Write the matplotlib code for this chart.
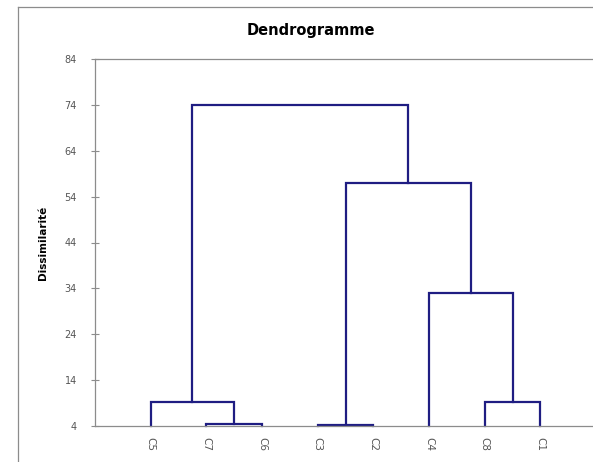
import numpy as np
import matplotlib.pyplot as plt
from matplotlib.lines import Line2D

# leaves in display order
leaves = ['C5', 'C7', 'C6', 'C3', 'C2', 'C4', 'C8', 'C1']
# merges: (left, right, height)
merges = [
    ('C7', 'C6', 4.5),
    ('C3', 'C2', 4.2),
    ('C8', 'C1', 9.3),
    ('C5', 'C7+C6', 9.3),
    ('C4', 'C8+C1', 33.1),
    ('C3+C2', 'C4+C8+C1', 57.0),
    ('C5+C7+C6', 'C3+C2+C4+C8+C1', 74.0),
]
yticks = [4, 14, 24, 34, 44, 54, 64, 74, 84]
base = 4

color = '#1f1d82'
grey = '#8c8c8c'

fig = plt.figure(figsize=(5.93, 4.62), dpi=100)
ax = fig.add_axes([95 / 593, 36 / 462, 501 / 593, 367 / 462])

pos = {name: i + 1 for i, name in enumerate(leaves)}
hgt = {name: base for name in leaves}
for a, b, h in merges:
    xa, xb = pos[a], pos[b]
    ax.plot([xa, xa, xb, xb], [hgt[a], h, h, hgt[b]], color=color, lw=1.6,
            solid_joinstyle='miter', clip_on=False)
    new = a + '+' + b
    pos[new] = (xa + xb) / 2
    hgt[new] = h

ax.set_xlim(0, 9)
ax.set_ylim(4, 84)
ax.set_yticks(yticks)
ax.set_xticks(range(1, len(leaves) + 1))
ax.set_xticklabels(leaves, rotation=-90, color='#555555', fontsize=7.5)
ax.tick_params(axis='x', length=0, pad=8)
ax.tick_params(axis='y', direction='inout', length=6, color=grey,
               labelcolor='#555555', labelsize=7, pad=10)
for s in ['left', 'top', 'bottom']:
    ax.spines[s].set_color(grey)
    ax.spines[s].set_linewidth(0.9)
ax.spines['right'].set_visible(False)

ax.set_ylabel('Dissimilarité', fontsize=7.5, fontweight='bold', labelpad=12)
fig.text(311 / 593, 1 - 30 / 462, 'Dendrogramme', ha='center', va='center',
         fontsize=10.5, fontweight='bold')

# outer chart frame
fig.add_artist(Line2D([18 / 593, 1], [1 - 7 / 462, 1 - 7 / 462], color=grey, lw=0.9))
fig.add_artist(Line2D([18 / 593, 18 / 593], [0, 1 - 7 / 462], color=grey, lw=0.9))

fig.savefig('out.png', dpi=100)
